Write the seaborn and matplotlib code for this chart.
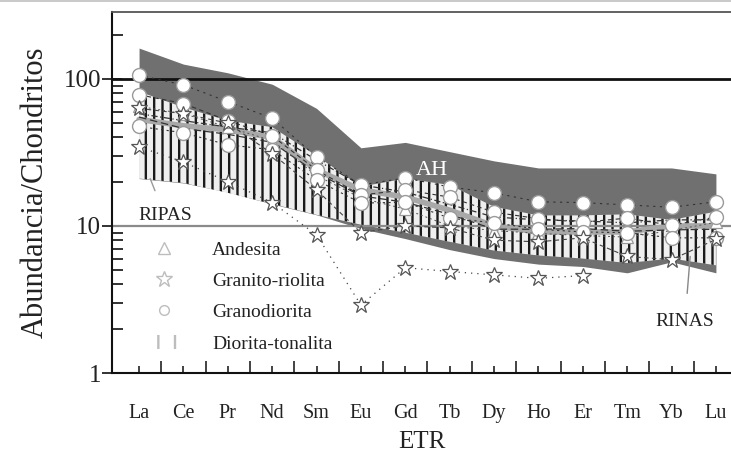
import numpy as np
import pandas as pd
import matplotlib
matplotlib.use("Agg")
import matplotlib.pyplot as plt
from matplotlib.lines import Line2D
from matplotlib.patches import Patch
import seaborn as sns

# Rare-earth elements (x axis)
elements = ["La", "Ce", "Pr", "Nd", "Sm", "Eu", "Gd", "Tb", "Dy", "Ho", "Er", "Tm", "Yb", "Lu"]

# AH field (dark envelope)
ah_upper = [162, 126, 110, 92, 63, 34, 37, 32, 27.7, 24.8, 24.8, 24.8, 24.8, 22.6]
ah_lower = [21, 19.6, 17, 14.1, 11.9, 9.6, 8.2, 6.9, 6.0, 5.5, 5.3, 4.8, 5.7, 4.8]

# Diorita-tonalita field (hatched, RIPAS / RINAS)
dt_upper = [82, 64, 52, 47, 30, 18.5, 21, 19, 13.5, 11.8, 11.8, 12, 11, 12.5]
dt_lower = [21, 19.6, 16.8, 14.1, 11.9, 10.2, 9.0, 7.8, 6.8, 6.3, 6.0, 5.6, 6.0, 5.4]

# Diorita-tonalita sample patterns
dt_mean = [53, 48, 45, 40, 24, 17.6, 15.7, 12.8, 10, 9.1, 9.1, 9.1, 10, 10]
dt_s1 = [58, 52, 47, 43, 28, 19, 17, 14, 11.5, 11, 10.8, 10.5, 11, 11]
dt_s2 = [55, 46, 42, 37, 23, 16, 14.5, 12, 9.5, 9.5, 9.6, 9.2, 9.4, 9.5]

# Granodiorita samples
gd_1 = [106, 91, 70, 54, 29.5, 19, 21.2, 18.4, 16.8, 14.6, 14.4, 13.9, 13.4, 14.6]
gd_2 = [78, 68, 52, 41, 24, 16.2, 17.6, 15.7, 12.4, 11.2, 10.6, 11.3, 10.1, 11.5]
gd_3 = [47.5, 43, 35.6, 33, 20.5, 14.3, 14.5, 11.3, 10.5, 9.5, 9.1, 9.0, 8.3, 8.3]

# Granito-riolita samples
gr_1 = [63, 58, 50, 31, 17.6, 9.0, 10.0, 9.7, 8.0, 7.8, 8.3, 6.2, 5.9, 8.1]
gr_2 = [34.5, 27.2, 20, 14.4, 8.7, 2.9, 5.2, 4.9, 4.65, 4.4, 4.6]

# Andesita sample
an_1 = [65, 58, 47, 38, 22, 15.5, 13, 10, 9.3, 8.9, 8.6, 8.4, 9.3, 10.6]

sns.set_style("ticks")
plt.rcParams["font.serif"] = ["Liberation Serif", "DejaVu Serif"]
plt.rcParams["font.family"] = ["Liberation Serif", "DejaVu Serif"]
plt.rcParams["hatch.linewidth"] = 1.7

TXT = "#222222"
DARK = "#707070"

fig = plt.figure(figsize=(7.31, 4.66), dpi=100)
ax = fig.add_axes([112 / 731, 93 / 466, 1 - 112 / 731, 361 / 466])

pos = np.arange(len(elements))

# Fields
ax.fill_between(pos, ah_lower, ah_upper, color=DARK, lw=0, zorder=1)
ax.fill_between(pos, dt_lower, dt_upper, facecolor="#efefef", edgecolor="#1a1a1a",
                hatch="||", lw=0, zorder=1.5)

# Reference lines at 10 and 100
ax.axhline(100, color="#111111", lw=2.0, zorder=2.5)
ax.axhline(10, color="#8a8a8a", lw=1.6, zorder=2.5)

# Diorita-tonalita patterns
sns.lineplot(x=pos, y=dt_mean, ax=ax, color="#a8a8a8", lw=4.0, estimator=None,
             sort=False, zorder=3)
sns.lineplot(x=pos, y=dt_s1, ax=ax, color="#333333", lw=0.9,
             linestyle=(0, (5, 2, 1, 2)), estimator=None, sort=False, zorder=3)
sns.lineplot(x=pos, y=dt_s2, ax=ax, color="#333333", lw=0.9,
             linestyle=(0, (6, 3)), estimator=None, sort=False, zorder=3)

circle_kw = dict(marker="o", markersize=10, markerfacecolor="white",
                 markeredgecolor="#9a9a9a", markeredgewidth=1.0)
star_kw = dict(marker="*", markersize=12, markerfacecolor="white",
               markeredgecolor="#555555", markeredgewidth=0.9)
tri_kw = dict(marker="^", markersize=8, markerfacecolor="white",
              markeredgecolor="#9a9a9a", markeredgewidth=0.9)

# Andesita
sns.lineplot(x=pos, y=an_1, ax=ax, color="#555555", lw=0.7,
             linestyle=(0, (2, 3)), estimator=None, sort=False, zorder=4, **tri_kw)

# Granodiorita
for vals, ls in [(gd_1, (0, (2, 4))), (gd_2, (0, (4, 3))), (gd_3, (0, (2, 3)))]:
    sns.lineplot(x=pos, y=vals, ax=ax, color="#333333", lw=0.8, linestyle=ls,
                 estimator=None, sort=False, zorder=4, **circle_kw)

# Granito-riolita
sns.lineplot(x=pos, y=gr_1, ax=ax, color="#444444", lw=0.8, linestyle=(0, (4, 3)),
             estimator=None, sort=False, zorder=4, **star_kw)
sns.lineplot(x=pos[:len(gr_2)], y=gr_2, ax=ax, color="#444444", lw=0.9,
             linestyle=(0, (1, 4)), estimator=None, sort=False, zorder=4, **star_kw)

# Scales and limits
ax.set_yscale("log")
ax.set_ylim(1, 285)
ax.set_xlim(-0.61, 13.34)

ax.set_yticks([1, 10, 100])
ax.set_yticklabels(["1", "10", "100"])
ax.yaxis.set_minor_locator(matplotlib.ticker.LogLocator(base=10, subs=np.arange(2, 10)))
ax.yaxis.set_minor_formatter(matplotlib.ticker.NullFormatter())

ax.set_xticks(pos)
ax.set_xticklabels(elements)
ax.set_xticks(pos[:-1] + 0.5, minor=True)

ax.tick_params(axis="y", which="major", direction="inout", length=14, width=1.3,
               labelsize=18, pad=1, colors=TXT)
ax.tick_params(axis="y", which="minor", direction="in", length=8, width=1.3, colors=TXT)
ax.tick_params(axis="x", which="major", direction="in", length=5, width=1.2,
               labelsize=14.5, pad=22, colors=TXT)
ax.tick_params(axis="x", which="minor", direction="in", length=9, width=1.2, colors=TXT)

for s in ["left", "bottom"]:
    ax.spines[s].set_linewidth(1.5)
    ax.spines[s].set_color("#111111")
ax.spines["top"].set_linewidth(1.3)
ax.spines["top"].set_color("#555555")
ax.spines["right"].set_visible(False)

ax.set_ylabel("Abundancia/Chondritos", fontsize=22, color=TXT, labelpad=10)
ax.set_xlabel("ETR", fontsize=18, color=TXT, labelpad=6)

# Field labels
ax.text(6.6, 24, "AH", color="white", fontsize=16, ha="center", va="center", zorder=5)
ax.annotate("RIPAS", xy=(0.25, 21), xytext=(0.58, 11.8), fontsize=14, color=TXT,
            ha="center", va="center", zorder=5,
            arrowprops=dict(arrowstyle="-", color="#999999", lw=1.0,
                            shrinkA=10, shrinkB=0))
ax.annotate("RINAS", xy=(12.42, 6.2), xytext=(12.3, 2.23), fontsize=14, color=TXT,
            ha="center", va="center", zorder=5,
            arrowprops=dict(arrowstyle="-", color="#888888", lw=1.0,
                            shrinkA=12, shrinkB=0))

# Legend
light = "#bdbdbd"
handles = [
    Line2D([], [], ls="none", marker="^", markersize=8, markerfacecolor="white",
           markeredgecolor=light, markeredgewidth=1.0),
    Line2D([], [], ls="none", marker="*", markersize=12, markerfacecolor="white",
           markeredgecolor=light, markeredgewidth=1.0),
    Line2D([], [], ls="none", marker="o", markersize=7, markerfacecolor="white",
           markeredgecolor=light, markeredgewidth=1.0),
    Patch(facecolor="white", edgecolor=light, hatch="|", lw=0),
]
labels = ["Andesita", "Granito-riolita", "Granodiorita", "Diorita-tonalita"]
leg = ax.legend(handles, labels, loc="upper left", bbox_to_anchor=(0.052, 0.365),
                frameon=False, fontsize=14, handlelength=2.0, handletextpad=1.5,
                labelspacing=0.7, borderpad=0, borderaxespad=0)
for t in leg.get_texts():
    t.set_color(TXT)

# Thin rule along the top edge of the page
fig.add_artist(Line2D([0, 1], [0.998, 0.998], transform=fig.transFigure,
                      color="#c0c0c0", lw=1.2))

fig.savefig("out.png", dpi=100)
